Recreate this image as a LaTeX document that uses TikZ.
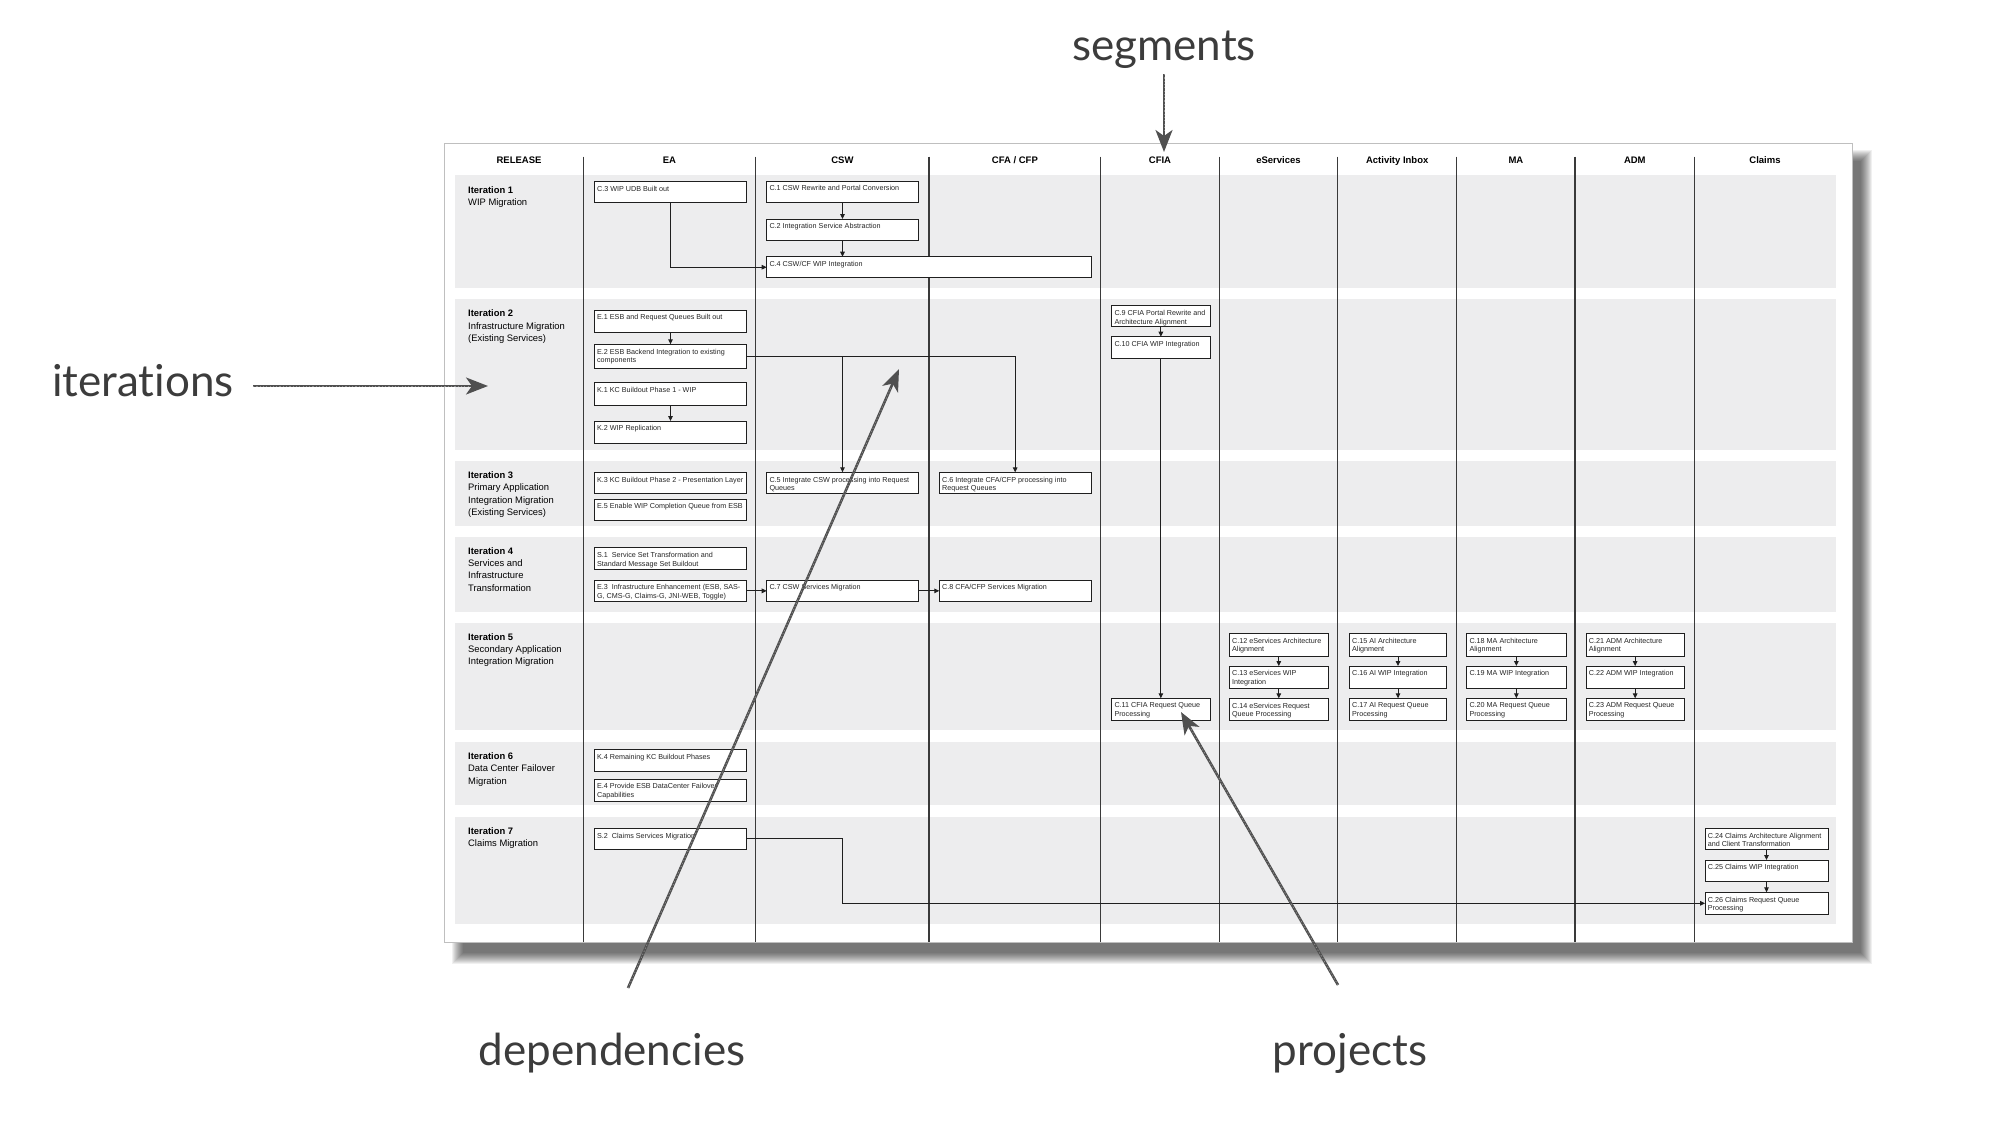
\documentclass[tikz,border=0pt]{standalone}
\usepackage{fontspec}
\setmainfont{Liberation Sans}
\newfontfamily\annfont[Ligatures={NoCommon,NoRare,NoDiscretionary}]{Lato}
\usetikzlibrary{arrows.meta,fit,calc}
\definecolor{bandgray}{HTML}{EDEDEE}
\definecolor{rulegray}{HTML}{3A3A3A}
\definecolor{anngray}{HTML}{3C3C3C}
\newcommand\projbox[6]{%
  \node[pbox, fit={(#2,#3) (#4,#5)}] (#1) {};
  \node[ptext] (#1-t) at ([xshift=2.6pt,yshift=-4.3pt]#1.north west) {#6};
}
\begin{document}
\begin{tikzpicture}[x=1pt,y=-1pt,
  pbox/.style={draw=black!88, line width=0.95pt, fill=white, inner sep=0pt, outer sep=0pt},
  ptext/.style={anchor=north west, inner sep=0pt, align=left, font=\fontsize{7.2}{8.9}\selectfont, text=black!85},
  dep/.style={draw=black!88, line width=0.9pt, -{Triangle[length=5pt,width=4.6pt]}},
  hdr/.style={anchor=base, inner sep=0pt, font=\bfseries\fontsize{9.5}{11}\selectfont},
  iter/.style={anchor=north west, inner sep=0pt, align=left, font=\fontsize{9.4}{12.3}\selectfont},
  divider/.style={draw=rulegray, line width=1.1pt},
  ann/.style={anchor=base, inner sep=0pt, font=\annfont\fontsize{44}{48}\selectfont, text=anngray},
  annarrow/.style={draw=anngray!90, line width=2.6pt, -{Stealth[length=22pt,width=17pt,inset=6pt]}},
  annhatch/.style={draw=white, opacity=0.35, line width=0.8pt, dash pattern=on 1.2pt off 2.1pt, shorten >=20pt}
]
\useasboundingbox (0,0) rectangle (2000,1125);
\fill[white] (0,0) rectangle (2000,1125);

% drop shadow of the page
\foreach \i in {0,...,11} {
  \fill[black, opacity=0.06] (452+\i,150+\i) rectangle (1872-\i,964-\i);
}
% page
\fill[white] (444,143) rectangle (1852,942);
\draw[black!25, line width=0.8pt] (444,143) rectangle (1852,942);

% iteration bands
\fill[bandgray] (455,175) rectangle (1836,288.3);
\fill[bandgray] (455,299.3) rectangle (1836,449.5);
\fill[bandgray] (455,460.7) rectangle (1836,526);
\fill[bandgray] (455,536.7) rectangle (1836,611.7);
\fill[bandgray] (455,622.5) rectangle (1836,730);
\fill[bandgray] (455,741.7) rectangle (1836,805);
\fill[bandgray] (455,816.7) rectangle (1836,924);

% column dividers
\foreach \x in {583.3,755.7,929,1100.7,1219.3,1337.7,1456.7,1575,1694.5} {
  \draw[divider] (\x,156.7) -- (\x,942);
}

% headers
\node[hdr] (h-release) at (519,163.4) {RELEASE};
\node[hdr] (h-ea) at (669.5,163.4) {EA};
\node[hdr] (h-csw) at (842.4,163.4) {CSW};
\node[hdr] (h-cfa) at (1014.9,163.4) {CFA / CFP};
\node[hdr] (h-cfia) at (1160,163.4) {CFIA};
\node[hdr] (h-eserv) at (1278.5,163.4) {eServices};
\node[hdr] (h-ai) at (1397.2,163.4) {Activity Inbox};
\node[hdr] (h-ma) at (1515.9,163.4) {MA};
\node[hdr] (h-adm) at (1634.8,163.4) {ADM};
\node[hdr] (h-claims) at (1765,163.4) {Claims};

% release column
\node[iter] (it1) at (468,186.6) {\textbf{Iteration 1}\\WIP Migration};
\node[iter] (it2) at (468,309.9) {\textbf{Iteration 2}\\Infrastructure Migration\\(Existing Services)};
\node[iter] (it3) at (468,471.6) {\textbf{Iteration 3}\\Primary Application\\Integration Migration\\(Existing Services)};
\node[iter] (it4) at (468,547.3) {\textbf{Iteration 4}\\Services and\\Infrastructure\\Transformation};
\node[iter] (it5) at (468,633.3) {\textbf{Iteration 5}\\Secondary Application\\Integration Migration};
\node[iter] (it6) at (468,752.6) {\textbf{Iteration 6}\\Data Center Failover\\Migration};
\node[iter] (it7) at (468,827.3) {\textbf{Iteration 7}\\Claims Migration};

% EA
\projbox{c3}{594.3}{181.7}{746.7}{202.3}{C.3 WIP UDB Built out}
\projbox{e1}{594.3}{310}{746.7}{332.7}{E.1 ESB and Request Queues Built out}
\projbox{e2}{594.3}{344.3}{746.7}{368.7}{E.2 ESB Backend Integration to existing\\components}
\projbox{k1}{594.3}{382.7}{746.7}{405}{K.1 KC Buildout Phase 1 - WIP}
\projbox{k2}{594.3}{421}{746.7}{443}{K.2 WIP Replication}
\projbox{k3}{594.3}{472.3}{746.7}{493.3}{K.3 KC Buildout Phase 2 - Presentation Layer}
\projbox{e5}{594.3}{499}{746.7}{520.7}{E.5 Enable WIP Completion Queue from ESB}
\projbox{s1}{594.3}{547.7}{746.7}{569.3}{S.1\ \ Service Set Transformation and\\Standard Message Set Buildout}
\projbox{e3}{594.3}{580}{746.7}{601.7}{E.3\ \ Infrastructure Enhancement (ESB, SAS-\\G, CMS-G, Claims-G, JNI-WEB, Toggle)}
\projbox{k4}{594.3}{749.3}{746.7}{771}{K.4 Remaining KC Buildout Phases}
\projbox{e4}{594.3}{779}{746.7}{801}{E.4 Provide ESB DataCenter Failover\\Capabilities}
\projbox{s2}{594.3}{828.3}{746.7}{849.3}{S.2\ \ Claims Services Migration}

% CSW
\projbox{c1}{766.7}{181}{918.3}{202.7}{C.1 CSW Rewrite and Portal Conversion}
\projbox{c2}{766.7}{219}{918.3}{240}{C.2 Integration Service Abstraction}
\projbox{c4}{766.7}{256.7}{1091}{277.7}{C.4 CSW/CF WIP Integration}
\projbox{c5}{766.7}{472.3}{918.3}{493.3}{C.5 Integrate CSW processing into Request\\Queues}
\projbox{c7}{766.7}{580}{918.3}{601.7}{C.7 CSW Services Migration}

% CFA / CFP
\projbox{c6}{939.3}{472.3}{1091}{493.3}{C.6 Integrate CFA/CFP processing into\\Request Queues}
\projbox{c8}{939.3}{580}{1091}{601.7}{C.8 CFA/CFP Services Migration}

% CFIA
\projbox{c9}{1111.7}{305.7}{1210}{326.7}{C.9 CFIA Portal Rewrite and\\Architecture Alignment}
\projbox{c10}{1111.7}{336.7}{1210}{358.3}{C.10 CFIA WIP Integration}
\projbox{c11}{1111.7}{698.3}{1210}{720.7}{C.11 CFIA Request Queue\\Processing}

% eServices
\projbox{c12}{1229.3}{633.3}{1328.3}{656}{C.12 eServices Architecture\\Alignment}
\projbox{c13}{1229.3}{666}{1328.3}{688.3}{C.13 eServices WIP\\Integration}
\projbox{c14}{1229.3}{698.3}{1328.3}{720.7}{C.14 eServices Request\\Queue Processing}

% Activity Inbox
\projbox{c15}{1349.3}{633.3}{1446.7}{656}{C.15 AI Architecture\\Alignment}
\projbox{c16}{1349.3}{666}{1446.7}{688.3}{C.16 AI WIP Integration}
\projbox{c17}{1349.3}{698.3}{1446.7}{720.7}{C.17 AI Request Queue\\Processing}

% MA
\projbox{c18}{1466.7}{633.3}{1566}{656}{C.18 MA Architecture\\Alignment}
\projbox{c19}{1466.7}{666}{1566}{688.3}{C.19 MA WIP Integration}
\projbox{c20}{1466.7}{698.3}{1566}{720.7}{C.20 MA Request Queue\\Processing}

% ADM
\projbox{c21}{1586}{633.3}{1684.3}{656}{C.21 ADM Architecture\\Alignment}
\projbox{c22}{1586}{666}{1684.3}{688.3}{C.22 ADM WIP Integration}
\projbox{c23}{1586}{698.3}{1684.3}{720.7}{C.23 ADM Request Queue\\Processing}

% Claims
\projbox{c24}{1705}{828.3}{1828}{849.3}{C.24 Claims Architecture Alignment\\and Client Transformation}
\projbox{c25}{1705}{860}{1828}{881.7}{C.25 Claims WIP Integration}
\projbox{c26}{1705}{892.3}{1828}{914.3}{C.26 Claims Request Queue\\Processing}

% dependencies
\draw[dep] (c1.south) -- (c2.north);
\draw[dep] (c2.south) -- (c4.north -| c2.south);
\draw[dep] (c3.south) |- (c4.west);
\draw[dep] (e1.south) -- (e2.north);
\draw[dep] (k1.south) -- (k2.north);
\draw[dep] (e2.east) -| (c6.north);
\draw[dep] (e2.east -| c5.north) -- (c5.north);
\draw[dep] (e3.east) -- (c7.west);
\draw[dep] (c7.east) -- (c8.west);
\draw[dep] (c9.south) -- (c10.north);
\draw[dep] (c10.south) -- (c11.north);
\draw[dep] (c12.south) -- (c13.north);
\draw[dep] (c13.south) -- (c14.north);
\draw[dep] (c15.south) -- (c16.north);
\draw[dep] (c16.south) -- (c17.north);
\draw[dep] (c18.south) -- (c19.north);
\draw[dep] (c19.south) -- (c20.north);
\draw[dep] (c21.south) -- (c22.north);
\draw[dep] (c22.south) -- (c23.north);
\draw[dep] (c24.south) -- (c25.north);
\draw[dep] (c25.south) -- (c26.north);
\coordinate (s2turn) at (842.5,903.3);
\draw[dep] (s2.east) -| (s2turn) -- (c26.west);

% annotations
\node[ann] (a-segments) at (1164,60) {segments};
\node[ann] (a-iterations) at (143,396) {iterations};
\node[ann] (a-dependencies) at (612,1065) {dependencies};
\node[ann] (a-projects) at (1350,1065) {projects};

\coordinate (segtail) at (1164,74);
\coordinate (segtip) at (1164,152);
\coordinate (ittail) at (253,386);
\coordinate (ittip) at (488,386);
\coordinate (deptail) at (628,988);
\coordinate (deptip) at (899,369);
\coordinate (projtail) at (1338,985);
\coordinate (projtip) at (1181,712);
\draw[annarrow] (segtail) -- (segtip);
\draw[annarrow] (ittail) -- (ittip);
\draw[annarrow] (deptail) -- (deptip);
\draw[annarrow] (projtail) -- (projtip);
\draw[annhatch] (segtail) -- (segtip);
\draw[annhatch] (ittail) -- (ittip);
\draw[annhatch] (deptail) -- (deptip);
\draw[annhatch] (projtail) -- (projtip);
\end{tikzpicture}
\end{document}
